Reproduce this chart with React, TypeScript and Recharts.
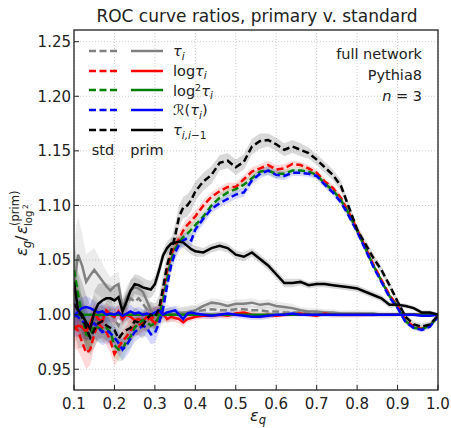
import React from 'react';
import { ComposedChart, Line, Area, XAxis, YAxis, CartesianGrid } from 'recharts';

// efficiency grid (finer on the noisy low-eps side)
const epsQ = [
  0.10, 0.11, 0.12, 0.13, 0.14, 0.15, 0.16, 0.17, 0.18, 0.19,
  0.20, 0.21, 0.22, 0.23, 0.24, 0.25, 0.26, 0.27, 0.28, 0.29,
  0.30, 0.31, 0.32, 0.33, 0.34, 0.35, 0.36, 0.37, 0.38, 0.39,
  0.40, 0.42, 0.44, 0.46, 0.48, 0.50, 0.52, 0.54, 0.56, 0.58,
  0.60, 0.62, 0.64, 0.66, 0.68, 0.70, 0.72, 0.74, 0.76, 0.78,
  0.80, 0.82, 0.84, 0.86, 0.88, 0.90, 0.92, 0.94, 0.96, 0.98, 1.00,
];

// std (dashed)
const stdTau = [
  1.020, 1.010, 1.000, 0.990, 0.995, 1.005, 1.000, 0.995, 1.000, 1.005,
  0.995, 0.990, 1.000, 1.010, 1.015, 1.012, 1.015, 1.010, 1.005, 1.000,
  0.998, 0.999, 1.000, 1.001, 1.000, 1.001, 1.002, 1.001, 1.002, 1.003,
  1.003, 1.004, 1.005, 1.004, 1.004, 1.005, 1.005, 1.004, 1.004, 1.003,
  1.003, 1.002, 1.002, 1.002, 1.001, 1.001, 1.001, 1.000, 1.000, 1.000,
  1.000, 1.000, 1.000, 1.000, 1.000, 1.000, 1.000, 1.000, 1.000, 1.000, 1.000,
];
const stdLog = [
  0.990, 0.985, 0.975, 0.965, 0.968, 0.982, 0.992, 0.988, 0.984, 0.976,
  0.964, 0.970, 0.976, 0.980, 0.986, 0.989, 0.990, 0.993, 0.995, 0.997,
  0.998, 1.002, 1.020, 1.040, 1.055, 1.063, 1.070, 1.077, 1.082, 1.086,
  1.090, 1.100, 1.108, 1.113, 1.117, 1.117, 1.124, 1.131, 1.134, 1.137,
  1.133, 1.134, 1.138, 1.137, 1.134, 1.130, 1.122, 1.116, 1.107, 1.093,
  1.078, 1.062, 1.046, 1.032, 1.018, 1.008, 0.995, 0.989, 0.987, 0.990, 0.999,
];
const stdLog2 = [
  1.041, 1.019, 0.998, 0.982, 0.980, 0.990, 0.988, 0.986, 0.988, 0.984,
  0.972, 0.968, 0.968, 0.976, 0.980, 0.988, 0.992, 0.995, 0.993, 0.990,
  0.992, 0.998, 1.012, 1.032, 1.050, 1.060, 1.066, 1.071, 1.074, 1.078,
  1.082, 1.090, 1.100, 1.107, 1.112, 1.115, 1.119, 1.125, 1.131, 1.132,
  1.129, 1.129, 1.132, 1.132, 1.131, 1.128, 1.120, 1.114, 1.105, 1.092,
  1.077, 1.061, 1.045, 1.031, 1.017, 1.007, 0.994, 0.988, 0.987, 0.990, 0.998,
];
const stdR = [
  1.000, 0.998, 0.994, 0.992, 0.990, 0.992, 0.988, 0.984, 0.986, 0.983,
  0.979, 0.974, 0.968, 0.972, 0.978, 0.984, 0.987, 0.990, 0.988, 0.982,
  0.983, 0.992, 1.005, 1.026, 1.045, 1.057, 1.064, 1.068, 1.070, 1.068,
  1.078, 1.088, 1.097, 1.102, 1.106, 1.110, 1.112, 1.123, 1.129, 1.132,
  1.128, 1.127, 1.130, 1.130, 1.129, 1.127, 1.119, 1.112, 1.103, 1.090,
  1.076, 1.060, 1.044, 1.030, 1.016, 1.006, 0.993, 0.988, 0.986, 0.989, 0.998,
];
const stdPair = [
  1.010, 1.004, 0.998, 0.988, 0.979, 0.986, 0.992, 0.994, 0.990, 0.988,
  0.986, 0.978, 0.983, 0.986, 0.988, 0.994, 0.993, 0.990, 0.996, 1.000,
  0.998, 1.005, 1.024, 1.045, 1.058, 1.072, 1.090, 1.098, 1.100, 1.105,
  1.113, 1.122, 1.128, 1.139, 1.141, 1.135, 1.140, 1.154, 1.159, 1.160,
  1.156, 1.151, 1.154, 1.151, 1.148, 1.142, 1.135, 1.128, 1.118, 1.098,
  1.078, 1.065, 1.052, 1.041, 1.027, 1.012, 0.998, 0.991, 0.989, 0.991, 0.999,
];

// prim (solid)
const primTau = [
  1.025, 1.055, 1.045, 1.030, 1.036, 1.041, 1.036, 1.031, 1.026, 1.022,
  1.026, 1.028, 1.006, 1.016, 1.022, 1.025, 1.024, 1.021, 1.013, 1.004,
  1.000, 1.000, 0.999, 1.000, 1.001, 1.000, 1.001, 1.002, 1.002, 1.003,
  1.004, 1.008, 1.011, 1.010, 1.008, 1.010, 1.010, 1.011, 1.009, 1.010,
  1.008, 1.007, 1.006, 1.004, 1.003, 1.003, 1.002, 1.002, 1.001, 1.001,
  1.001, 1.001, 1.001, 1.000, 1.000, 1.000, 1.000, 1.000, 1.000, 1.000, 1.000,
];
const primLog = [
  0.986, 0.990, 0.989, 0.984, 0.992, 1.002, 0.996, 0.994, 1.004, 1.000,
  0.998, 1.003, 0.996, 1.000, 0.998, 0.995, 0.996, 0.994, 0.998, 0.996,
  0.992, 0.998, 1.001, 0.996, 0.998, 0.997, 0.996, 0.993, 0.996, 0.997,
  0.998, 0.999, 0.999, 1.000, 0.999, 1.001, 1.002, 1.000, 0.999, 1.000,
  0.999, 1.000, 1.000, 1.001, 1.000, 0.999, 1.001, 1.000, 1.000, 1.000,
  1.000, 1.000, 1.000, 1.000, 1.000, 1.000, 1.000, 1.000, 1.000, 1.000, 1.000,
];
// reference curve divided by itself
const primLog2 = [
  1, 1, 1, 1, 1, 1, 1, 1, 1, 1, 1, 1, 1, 1, 1, 1, 1, 1, 1, 1,
  1, 1, 1, 1, 1, 1, 1, 1, 1, 1, 1, 1, 1, 1, 1, 1, 1, 1, 1, 1,
  1, 1, 1, 1, 1, 1, 1, 1, 1, 1, 1, 1, 1, 1, 1, 1, 1, 1, 1, 1, 1,
];
const primR = [
  0.998, 1.003, 1.006, 1.007, 1.006, 1.004, 1.002, 1.003, 1.000, 1.001,
  1.000, 1.002, 0.999, 1.001, 1.003, 1.001, 1.002, 1.000, 1.001, 1.000,
  1.002, 1.004, 1.000, 1.002, 1.003, 1.004, 1.000, 0.996, 1.001, 1.002,
  1.001, 1.000, 0.999, 1.000, 1.001, 1.000, 0.999, 0.998, 0.998, 0.999,
  1.000, 1.000, 1.001, 1.000, 1.000, 1.000, 1.000, 1.000, 1.000, 1.000,
  1.000, 1.000, 1.000, 1.000, 1.000, 1.000, 1.000, 1.000, 0.999, 0.999, 1.000,
];
const primPair = [
  1.030, 1.004, 1.000, 0.993, 0.987, 1.002, 1.010, 1.013, 1.015, 1.015,
  1.013, 1.016, 1.003, 1.012, 1.022, 1.028, 1.027, 1.025, 1.024, 1.023,
  1.028, 1.040, 1.054, 1.061, 1.065, 1.066, 1.067, 1.066, 1.063, 1.060,
  1.058, 1.057, 1.061, 1.063, 1.061, 1.055, 1.053, 1.057, 1.051, 1.045,
  1.037, 1.029, 1.029, 1.030, 1.027, 1.028, 1.028, 1.027, 1.026, 1.025,
  1.024, 1.021, 1.018, 1.015, 1.009, 1.009, 1.008, 1.006, 1.002, 1.002, 1.000,
];

// half widths of the shaded bands
const errPair = [
  0.020, 0.020, 0.018, 0.018, 0.016, 0.016, 0.015, 0.015, 0.014, 0.014,
  0.014, 0.013, 0.013, 0.013, 0.012, 0.012, 0.012, 0.012, 0.012, 0.012,
  0.012, 0.012, 0.012, 0.012, 0.011, 0.011, 0.010, 0.010, 0.010, 0.010,
  0.009, 0.008, 0.008, 0.007, 0.007, 0.007, 0.007, 0.007, 0.007, 0.006,
  0.006, 0.006, 0.006, 0.006, 0.005, 0.005, 0.005, 0.005, 0.005, 0.004,
  0.004, 0.004, 0.004, 0.003, 0.003, 0.003, 0.003, 0.003, 0.003, 0.003, 0.002,
];
const errStd = [
  0.020, 0.018, 0.016, 0.015, 0.014, 0.013, 0.013, 0.012, 0.012, 0.011,
  0.011, 0.011, 0.010, 0.010, 0.010, 0.009, 0.009, 0.009, 0.009, 0.009,
  0.009, 0.008, 0.008, 0.008, 0.007, 0.007, 0.006, 0.006, 0.006, 0.006,
  0.005, 0.005, 0.004, 0.004, 0.004, 0.004, 0.004, 0.004, 0.004, 0.004,
  0.004, 0.004, 0.003, 0.003, 0.003, 0.003, 0.003, 0.003, 0.003, 0.003,
  0.003, 0.002, 0.002, 0.002, 0.002, 0.002, 0.002, 0.002, 0.002, 0.002, 0.001,
];
const errPrim = [
  0.040, 0.035, 0.030, 0.025, 0.022, 0.020, 0.018, 0.016, 0.014, 0.012,
  0.012, 0.011, 0.011, 0.010, 0.010, 0.009, 0.009, 0.009, 0.008, 0.008,
  0.007, 0.007, 0.006, 0.006, 0.006, 0.005, 0.005, 0.005, 0.005, 0.005,
  0.005, 0.004, 0.004, 0.004, 0.004, 0.004, 0.004, 0.004, 0.004, 0.004,
  0.004, 0.004, 0.004, 0.003, 0.003, 0.003, 0.003, 0.003, 0.003, 0.003,
  0.003, 0.003, 0.003, 0.003, 0.003, 0.002, 0.002, 0.002, 0.002, 0.002, 0.001,
];
const errPrimCol = [
  0.012, 0.011, 0.010, 0.010, 0.009, 0.009, 0.008, 0.008, 0.007, 0.007,
  0.007, 0.006, 0.006, 0.006, 0.006, 0.005, 0.005, 0.005, 0.005, 0.005,
  0.005, 0.004, 0.004, 0.004, 0.004, 0.004, 0.004, 0.004, 0.003, 0.003,
  0.003, 0.003, 0.003, 0.003, 0.003, 0.003, 0.003, 0.003, 0.003, 0.003,
  0.002, 0.002, 0.002, 0.002, 0.002, 0.002, 0.002, 0.002, 0.002, 0.002,
  0.002, 0.002, 0.002, 0.001, 0.001, 0.001, 0.001, 0.001, 0.001, 0.001, 0.001,
];

const xTicks = [0.1, 0.2, 0.3, 0.4, 0.5, 0.6, 0.7, 0.8, 0.9, 1.0];
const yTicks = [0.95, 1.0, 1.05, 1.1, 1.15, 1.2, 1.25];

const GREY = '#808080';
const RED = '#ff0000';
const GREEN = '#008000';
const BLUE = '#0000ff';
const BLACK = '#000000';

const bands = [
  { key: 'stdTau', vals: stdTau, err: errStd, color: GREY },
  { key: 'primTau', vals: primTau, err: errPrim, color: GREY },
  { key: 'stdLog', vals: stdLog, err: errStd, color: RED },
  { key: 'primLog', vals: primLog, err: errPrimCol, color: RED },
  { key: 'stdLog2', vals: stdLog2, err: errStd, color: GREEN },
  { key: 'stdR', vals: stdR, err: errStd, color: BLUE },
  { key: 'primR', vals: primR, err: errPrimCol, color: BLUE },
  { key: 'stdPair', vals: stdPair, err: errPair, color: BLACK },
  { key: 'primPair', vals: primPair, err: errPrim, color: BLACK },
];

// draw order of the lines
const lines = [
  { key: 'stdTau', vals: stdTau, color: GREY, dashed: true },
  { key: 'primTau', vals: primTau, color: GREY, dashed: false },
  { key: 'stdLog', vals: stdLog, color: RED, dashed: true },
  { key: 'primLog', vals: primLog, color: RED, dashed: false },
  { key: 'stdLog2', vals: stdLog2, color: GREEN, dashed: true },
  { key: 'primLog2', vals: primLog2, color: GREEN, dashed: false },
  { key: 'stdR', vals: stdR, color: BLUE, dashed: true },
  { key: 'primR', vals: primR, color: BLUE, dashed: false },
  { key: 'stdPair', vals: stdPair, color: BLACK, dashed: true },
  { key: 'primPair', vals: primPair, color: BLACK, dashed: false },
];

const data = epsQ.map((x, i) => {
  const row: any = { x };
  lines.forEach((l) => { row[l.key] = l.vals[i]; });
  bands.forEach((b) => { row[b.key + 'Band'] = [b.vals[i] - b.err[i], b.vals[i] + b.err[i]]; });
  return row;
});

const FONT = '"DejaVu Sans", sans-serif';
const DASH = '7 3.5';

const legendRows = [
  { color: GREY, y: 51 },
  { color: RED, y: 71 },
  { color: GREEN, y: 90 },
  { color: BLUE, y: 110 },
  { color: BLACK, y: 130 },
];

export default function App() {
  return (
    <div style={{ position: 'absolute', left: 0, top: 0, width: 451, height: 428, background: '#fff', fontFamily: FONT }}>
      <ComposedChart width={451} height={428} data={data} margin={{ top: 30, right: 13, bottom: 0, left: 0 }}>
        <CartesianGrid stroke="#c8c8c8" strokeDasharray="1 2" strokeWidth={0.9} />
        <XAxis
          dataKey="x"
          type="number"
          domain={[0.1, 1.0]}
          ticks={xTicks}
          allowDataOverflow
          height={38}
          axisLine={false}
          tickSize={-5}
          tickMargin={13}
          tickLine={{ stroke: '#222' }}
          tick={{ fill: '#222', fontSize: 15, fontFamily: FONT }}
          tickFormatter={(v: number) => v.toFixed(1)}
        />
        <XAxis xAxisId="top" orientation="top" dataKey="x" type="number" domain={[0.1, 1.0]} ticks={xTicks}
          height={0} axisLine={false} tickSize={-5} tickLine={{ stroke: '#222' }} tick={false} />
        <YAxis
          type="number"
          domain={[0.931, 1.2607]}
          ticks={yTicks}
          allowDataOverflow
          width={74}
          axisLine={false}
          tickSize={-5}
          tickMargin={8}
          tickLine={{ stroke: '#222' }}
          tick={{ fill: '#222', fontSize: 15, fontFamily: FONT }}
          tickFormatter={(v: number) => v.toFixed(2)}
        />
        <YAxis yAxisId="right" orientation="right" type="number" domain={[0.931, 1.2607]} ticks={yTicks}
          width={0} axisLine={false} tickSize={-5} tickLine={{ stroke: '#222' }} tick={false} />
        {bands.map((b) => (
          <Area
            key={b.key + 'Band'}
            dataKey={b.key + 'Band'}
            type="linear"
            stroke="none"
            fill={b.color}
            fillOpacity={0.15}
            dot={false}
            activeDot={false}
            isAnimationActive={false}
          />
        ))}
        {lines.map((l) => (
          <Line
            key={l.key}
            dataKey={l.key}
            type="linear"
            stroke={l.color}
            strokeWidth={2.5}
            strokeDasharray={l.dashed ? DASH : undefined}
            dot={false}
            activeDot={false}
            isAnimationActive={false}
          />
        ))}
      </ComposedChart>

      <svg width={451} height={428} style={{ position: 'absolute', left: 0, top: 0, pointerEvents: 'none' }} fontFamily={FONT}>
        <rect x={74} y={30} width={364} height={360} fill="none" stroke="#222" strokeWidth={1.3} />
        <text x={257} y={22} fontSize={17} textAnchor="middle" fill="#222">ROC curve ratios, primary v. standard</text>

        {legendRows.map((r) => (
          <g key={r.y}>
            <line x1={89} x2={117} y1={r.y} y2={r.y} stroke={r.color} strokeWidth={2.5} strokeDasharray={DASH} />
            <line x1={131} x2={163} y1={r.y} y2={r.y} stroke={r.color} strokeWidth={2.5} />
          </g>
        ))}
        <g fontSize={14.5} fill="#222">
          <text x={173} y={56}><tspan fontStyle="italic">τ</tspan><tspan fontStyle="italic" fontSize={10.5} dy={4}>i</tspan></text>
          <text x={173} y={75.5}>log<tspan fontStyle="italic">τ</tspan><tspan fontStyle="italic" fontSize={10.5} dy={3.5}>i</tspan></text>
          <text x={173} y={95.5}>log<tspan fontSize={9.5} dy={-4.5}>2</tspan><tspan fontStyle="italic" dy={4.5}>τ</tspan><tspan fontStyle="italic" fontSize={10.5} dy={3.5}>i</tspan></text>
          <text x={173} y={115}>ℛ(<tspan fontStyle="italic">τ</tspan><tspan fontStyle="italic" fontSize={10.5} dy={3.5}>i</tspan><tspan dy={-3.5}>)</tspan></text>
          <text x={173} y={135}><tspan fontStyle="italic">τ</tspan><tspan fontStyle="italic" fontSize={10.5} dy={3.5}>i,i</tspan><tspan fontSize={10.5}>−1</tspan></text>
          <text x={103} y={155} textAnchor="middle">std</text>
          <text x={147} y={155} textAnchor="middle">prim</text>
        </g>

        <g fontSize={14.5} fill="#222" textAnchor="end">
          <text x={422} y={59}>full network</text>
          <text x={422} y={80}>Pythia8</text>
          <text x={422} y={101}><tspan fontStyle="italic">n</tspan> = 3</text>
        </g>

        <text x={250} y={421} fontSize={16} fill="#222">
          <tspan fontStyle="italic">ε</tspan><tspan fontStyle="italic" fontSize={11.5} dy={3}>q</tspan>
        </text>

        <g transform="translate(27,212) rotate(-90)" fill="#222">
          <text x={-44} y={0} fontSize={16} fontStyle="italic">ε</text>
          <text x={-36} y={4} fontSize={11.5} fontStyle="italic">g</text>
          <text x={-29} y={0} fontSize={16}>/</text>
          <text x={-22} y={0} fontSize={16} fontStyle="italic">ε</text>
          <text x={-14} y={5} fontSize={10}>log</text>
          <text x={3} y={1} fontSize={7.5}>2</text>
          <text x={-14} y={-8} fontSize={11.5}>(prim)</text>
        </g>
      </svg>
    </div>
  );
}
